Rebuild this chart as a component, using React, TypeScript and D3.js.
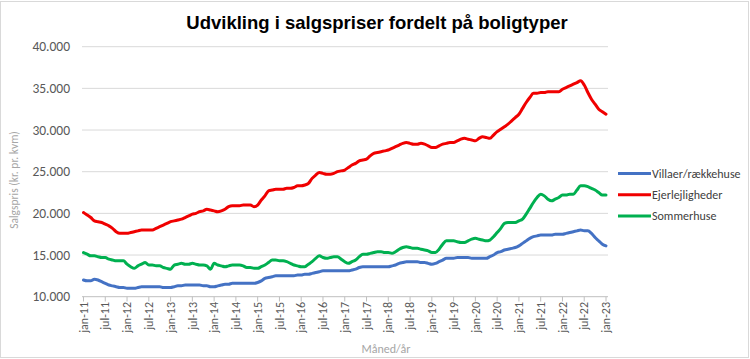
import React from "react";
import * as d3 from "d3";

// Monthly values jan-11 .. jan-23 (kr. pr. kvm, in thousands)
const villaer: number[] = [
  12.0, 11.9, 11.9, 12.1, 12.0, 11.8, 11.6, 11.4, 11.3, 11.2, 11.1, 11.1,
  11.0, 11.0, 11.0, 11.1, 11.2, 11.2, 11.2, 11.2, 11.2, 11.2, 11.1, 11.1,
  11.1, 11.2, 11.3, 11.3, 11.4, 11.4, 11.4, 11.4, 11.4, 11.3, 11.3, 11.2,
  11.2, 11.3, 11.4, 11.5, 11.5, 11.6, 11.6, 11.6, 11.6, 11.6, 11.6, 11.6,
  11.7, 11.9, 12.2, 12.3, 12.4, 12.5, 12.5, 12.5, 12.5, 12.5, 12.5, 12.6,
  12.6, 12.7, 12.7, 12.8, 12.9, 13.0, 13.1, 13.1, 13.1, 13.1, 13.1, 13.1,
  13.1, 13.1, 13.2, 13.3, 13.5, 13.6, 13.6, 13.6, 13.6, 13.6, 13.6, 13.6,
  13.6, 13.7, 13.8, 14.0, 14.1, 14.2, 14.2, 14.2, 14.2, 14.1, 14.1, 14.0,
  13.9, 14.0, 14.2, 14.4, 14.6, 14.6, 14.6, 14.7, 14.7, 14.7, 14.7, 14.6,
  14.6, 14.6, 14.6, 14.6, 14.8, 15.0, 15.3, 15.4, 15.6, 15.7, 15.8, 15.9,
  16.1, 16.4, 16.7, 17.0, 17.2, 17.3, 17.4, 17.4, 17.4, 17.4, 17.5, 17.5,
  17.5, 17.6, 17.7, 17.8, 17.9, 18.0, 17.9, 17.9, 17.6, 17.1, 16.7, 16.3,
  16.1,
];

const ejerlejligheder: number[] = [
  20.1, 19.8, 19.5, 19.1, 19.0, 18.9, 18.7, 18.5, 18.2, 17.8, 17.6, 17.6,
  17.6, 17.7, 17.8, 17.9, 18.0, 18.0, 18.0, 18.0, 18.2, 18.4, 18.6, 18.8,
  19.0, 19.1, 19.2, 19.3, 19.5, 19.7, 19.9, 20.0, 20.2, 20.3, 20.5, 20.4,
  20.3, 20.2, 20.3, 20.5, 20.8, 20.9, 20.9, 20.9, 21.0, 21.0, 21.0, 20.8,
  21.0, 21.6, 22.1, 22.7, 22.8, 22.9, 22.9, 22.9, 23.0, 23.0, 23.1, 23.3,
  23.3, 23.4, 23.6, 24.2, 24.6, 24.9, 24.8, 24.7, 24.7, 24.8, 25.0, 25.1,
  25.2, 25.5, 25.8, 26.0, 26.3, 26.4, 26.5, 26.9, 27.2, 27.3, 27.4, 27.5,
  27.6, 27.8, 28.0, 28.2, 28.4, 28.5, 28.4, 28.3, 28.3, 28.4, 28.3, 28.1,
  27.9, 27.9, 28.1, 28.3, 28.4, 28.5, 28.5, 28.7, 28.9, 29.0, 28.9, 28.8,
  28.7, 29.0, 29.2, 29.1, 29.0, 29.4, 29.8, 30.1, 30.4, 30.7, 31.1, 31.5,
  31.9, 32.6, 33.3, 33.9, 34.4, 34.4, 34.5, 34.5, 34.6, 34.6, 34.6, 34.6,
  34.9, 35.1, 35.3, 35.5, 35.7, 35.9, 35.4, 34.5, 33.7, 33.1, 32.5, 32.2,
  31.9,
];

const sommerhuse: number[] = [
  15.3, 15.1, 14.9, 14.9, 14.8, 14.7, 14.7, 14.5, 14.4, 14.3, 14.3, 14.3,
  13.9, 13.6, 13.4, 13.7, 13.9, 14.1, 13.8, 13.8, 13.7, 13.7, 13.5, 13.4,
  13.3, 13.8, 13.9, 14.0, 13.9, 13.9, 14.0, 13.9, 13.8, 13.8, 13.7, 13.3,
  14.0, 13.8, 13.7, 13.6, 13.7, 13.8, 13.8, 13.8, 13.7, 13.5, 13.5, 13.4,
  13.4, 13.6, 13.8, 14.1, 14.4, 14.4, 14.3, 14.3, 14.2, 14.0, 13.8, 13.7,
  13.6, 13.6, 13.9, 14.2, 14.6, 14.9, 14.7, 14.6, 14.7, 14.8, 14.8, 14.5,
  14.2, 14.0, 14.2, 14.4, 14.8, 15.1, 15.1, 15.2, 15.3, 15.4, 15.4, 15.3,
  15.3, 15.2, 15.4, 15.7, 15.9, 16.0, 15.9, 15.8, 15.8, 15.7, 15.6, 15.5,
  15.3, 15.3, 15.7, 16.3, 16.7, 16.7, 16.7, 16.6, 16.5, 16.5, 16.7, 16.9,
  17.0, 16.9, 16.8, 16.7, 16.8, 17.2, 17.7, 18.2, 18.8, 18.9, 18.9, 18.9,
  19.1, 19.3, 19.9, 20.6, 21.3, 21.9, 22.3, 22.1, 21.7, 21.5, 21.7, 21.9,
  22.2, 22.2, 22.3, 22.3, 22.8, 23.3, 23.3, 23.2, 23.0, 22.8, 22.5, 22.2,
  22.2,
];

const xTickLabels: string[] = [
  "jan-11", "jul-11", "jan-12", "jul-12", "jan-13", "jul-13", "jan-14", "jul-14",
  "jan-15", "jul-15", "jan-16", "jul-16", "jan-17", "jul-17", "jan-18", "jul-18",
  "jan-19", "jul-19", "jan-20", "jul-20", "jan-21", "jul-21", "jan-22", "jul-22", "jan-23",
];

const yTicks: number[] = [10000, 15000, 20000, 25000, 30000, 35000, 40000];

const seriesNames: string[] = ["Villaer/rækkehuse", "Ejerlejligheder", "Sommerhuse"];
const seriesColors: string[] = ["#4472C4", "#F00000", "#00B050"];

const W = 750;
const H = 359;
const FONT = "Calibri, Carlito, Lato, 'Open Sans', sans-serif";

export default function App() {
  const x = d3.scaleLinear().domain([0, 144]).range([83.5, 606]);
  const y = d3.scaleLinear().domain([10000, 40000]).range([296.7, 46.7]);
  const fmt = (v: number) => d3.format(",")(v).replace(/,/g, ".");

  const allSeries = [villaer, ejerlejligheder, sommerhuse];
  const line = d3
    .line<number>()
    .x((_, i) => x(i))
    .y((d) => y(d * 1000))
    .curve(d3.curveMonotoneX);

  return (
    <svg
      width={W}
      height={H}
      style={{ position: "fixed", left: 0, top: 0, background: "#fff" }}
    >
      <rect x={0.5} y={1.5} width={W - 2} height={H - 3} fill="#fff" stroke="#D9D9D9" />
      <text
        x={377}
        y={29}
        textAnchor="middle"
        fontFamily="'Liberation Sans', Arial, sans-serif"
        fontWeight="bold"
        fontSize={18.5}
        fill="#000"
      >
        Udvikling i salgspriser fordelt på boligtyper
      </text>

      {/* gridlines */}
      {yTicks.map((t) => (
        <line
          key={t}
          x1={82}
          x2={608}
          y1={y(t)}
          y2={y(t)}
          stroke={t === 10000 ? "#BFBFBF" : "#D9D9D9"}
          strokeWidth={1}
        />
      ))}
      {/* y tick labels */}
      {yTicks.map((t) => (
        <text
          key={"l" + t}
          x={70}
          y={y(t)}
          dy="0.35em"
          textAnchor="end"
          fontFamily={FONT}
          fontSize={13.5}
          fill="#595959"
        >
          {fmt(t)}
        </text>
      ))}
      {/* x ticks and labels */}
      {xTickLabels.map((lab, i) => {
        const xx = x(i * 6);
        return (
          <g key={lab}>
            <line x1={xx} x2={xx} y1={296.7} y2={301.5} stroke="#BFBFBF" />
            <text
              transform={`translate(${xx},${302}) rotate(-90)`}
              dy="0.35em"
              textAnchor="end"
              fontFamily={FONT}
              fontSize={12}
              fill="#595959"
            >
              {lab}
            </text>
          </g>
        );
      })}

      {/* axis titles */}
      <text
        transform={`translate(14,180) rotate(-90)`}
        textAnchor="middle"
        dy="0.35em"
        fontFamily={FONT}
        fontSize={11.5}
        fill="#A6A6A6"
      >
        Salgspris (kr. pr. kvm)
      </text>
      <text
        x={386}
        y={353}
        textAnchor="middle"
        fontFamily={FONT}
        fontSize={12}
        fill="#A6A6A6"
      >
        Måned/år
      </text>

      {/* lines */}
      {allSeries.map((s, i) => (
        <path
          key={seriesNames[i]}
          d={line(s) || ""}
          fill="none"
          stroke={seriesColors[i]}
          strokeWidth={3}
          strokeLinejoin="round"
          strokeLinecap="round"
        />
      ))}

      {/* legend */}
      {seriesNames.map((n, i) => {
        const ly = 173.5 + i * 21.2;
        return (
          <g key={"lg" + n}>
            <line x1={618} x2={651} y1={ly} y2={ly} stroke={seriesColors[i]} strokeWidth={3} />
            <text
              x={652}
              y={ly}
              dy="0.35em"
              fontFamily={FONT}
              fontSize={12}
              fill="#404040"
            >
              {n}
            </text>
          </g>
        );
      })}
    </svg>
  );
}
